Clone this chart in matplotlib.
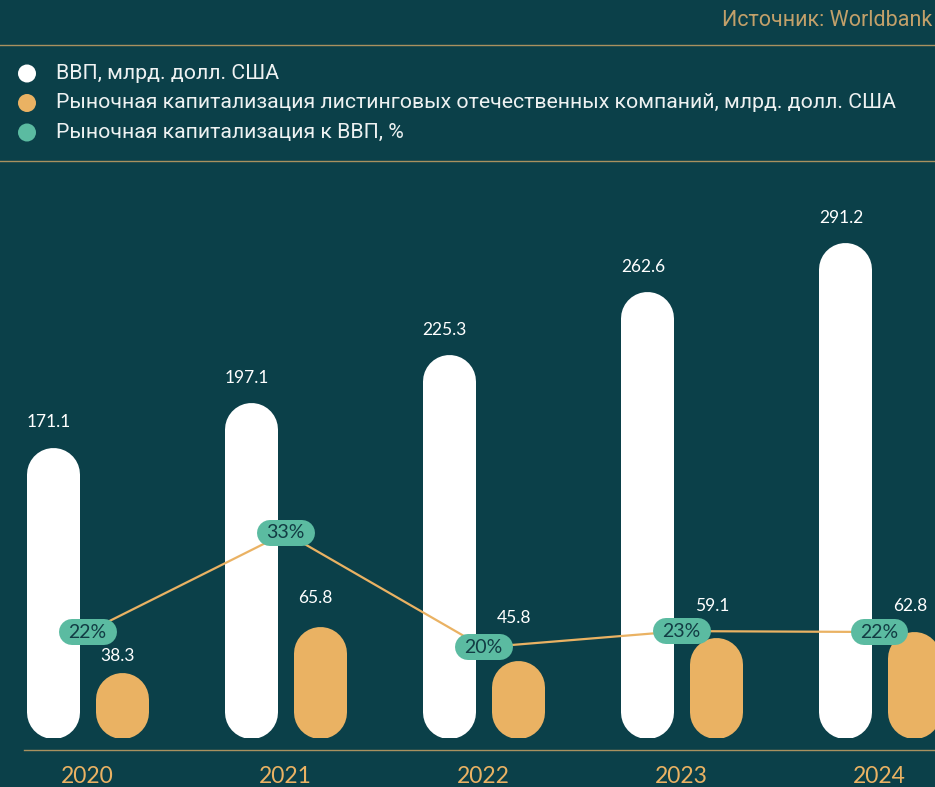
"""GDP vs market cap chart: capsule bars with ratio line."""
import matplotlib
matplotlib.use("Agg")
import matplotlib.pyplot as plt
from matplotlib.patches import Circle

years = ["2020", "2021", "2022", "2023", "2024"]
gdp = [171.1, 197.1, 225.3, 262.6, 291.2]
market_cap = [38.3, 65.8, 45.8, 59.1, 62.8]
ratio_pos = [22.0, 33.0, 20.3, 22.1, 22.0]
ratio_labels = ["22%", "33%", "20%", "23%", "22%"]

legend_labels = [
    "ВВП, млрд. долл. США",
    "Рыночная капитализация листинговых отечественных компаний, млрд. долл. США",
    "Рыночная капитализация к ВВП, %",
]
source_text = "Источник: Worldbank"

BG = "#0b4049"
WHITE = "#ffffff"
ORANGE = "#eab263"
TEAL = "#5bbba1"
GOLD = "#a9915f"
DARK_TEXT = "#123c44"

W, H, DPI = 935, 787, 100
text_font = ["Roboto", "DejaVu Sans"]
num_font = "Lato"

fig = plt.figure(figsize=(W / DPI, H / DPI), dpi=DPI, facecolor=BG)

# overlay axes in pixel coordinates for header, legend, baseline
ov = fig.add_axes([0, 0, 1, 1])
ov.set_xlim(0, W)
ov.set_ylim(H, 0)
ov.axis("off")
ov.set_facecolor(BG)

ov.text(932, 20, source_text, ha="right", va="center", fontsize=15.5,
        color="#c2a06a", family=text_font)
ov.plot([0, W], [45, 45], color=GOLD, lw=1)
ov.plot([0, W], [161, 161], color=GOLD, lw=1)
ov.plot([24, W], [750, 750], color=GOLD, lw=1)

for i, (lab, col) in enumerate(zip(legend_labels, [WHITE, ORANGE, TEAL])):
    y = 73.5 + 29.5 * i
    ov.add_patch(Circle((27, y), 9, color=col, lw=0))
    ov.text(56, y, lab, ha="left", va="center", fontsize=15.3,
            color="#eef2f2", family=text_font)

# main axes: x in group units, y in value units, baseline at pixel 738
spacing = 198.0
x0 = 87.5
base_px = 738
top_px = 170
ax = fig.add_axes([0, (H - base_px) / H, 1, (base_px - top_px) / H])
ax.set_xlim(-x0 / spacing, (W - x0) / spacing)
ax.set_ylim(0, (base_px - top_px) / 1.70)
ax.axis("off")
ax.patch.set_alpha(0)

px_per_unit = (ax.transData.transform((0, 1)) - ax.transData.transform((0, 0)))[1]
bar_px = 53
r = bar_px / 2 / px_per_unit
lw_pt = bar_px * 72 / DPI
off = 0.174

for i, (g, m) in enumerate(zip(gdp, market_cap)):
    ax.plot([i - off, i - off], [r, g - r], color=WHITE, lw=lw_pt,
            solid_capstyle="round", zorder=2)
    ax.plot([i + off, i + off], [r, max(m - r, r)], color=ORANGE, lw=lw_pt,
            solid_capstyle="round", zorder=2)
    ax.annotate(f"{g:.1f}", (i - off, g), xytext=(-3, 18), textcoords="offset points",
                ha="center", va="center", fontsize=12.5, color=WHITE, family=num_font)

orange_dy = [12, 20, 30, 23, 18]
for i, m in enumerate(market_cap):
    ax.annotate(f"{m:.1f}", (i + off, m), xytext=(-3, orange_dy[i]), textcoords="offset points",
                ha="center", va="center", fontsize=12.5, color=WHITE, family=num_font)

for i, y in enumerate(years):
    ax.annotate(y, (i, 0), xytext=(0, -28), textcoords="offset points",
                ha="center", va="center", fontsize=16.5, color=ORANGE, family=num_font)

# ratio line on its own scale
ax2 = fig.add_axes(ax.get_position())
ax2.set_xlim(ax.get_xlim())
lo = 22 - 106 / 9.0
ax2.set_ylim(lo, lo + (base_px - top_px) / 9.0)
ax2.axis("off")
ax2.patch.set_alpha(0)

xs = list(range(len(years)))
ax2.plot(xs, ratio_pos, color=ORANGE, lw=1.6, zorder=3)
pill_half = 16 / spacing
for i, (p, lab) in enumerate(zip(ratio_pos, ratio_labels)):
    ax2.plot([i - pill_half, i + pill_half], [p, p], color=TEAL, lw=26 * 72 / DPI,
             solid_capstyle="round", zorder=4)
    ax2.text(i, p, lab, ha="center", va="center", fontsize=14, color=DARK_TEXT,
             family=num_font, zorder=5)

fig.savefig("out.png", dpi=DPI, facecolor=BG)
plt.close(fig)
